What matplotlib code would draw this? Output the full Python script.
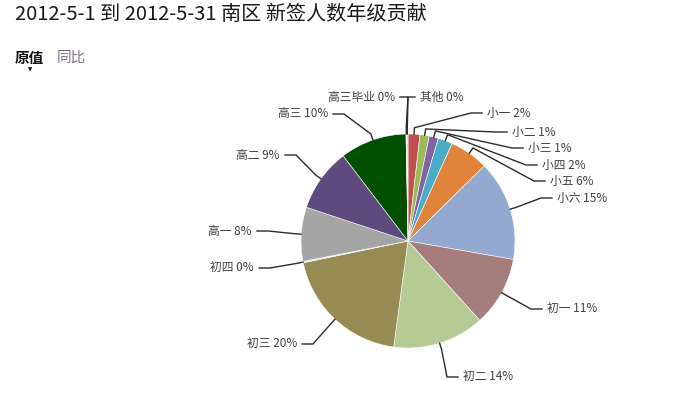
import matplotlib
matplotlib.use("Agg")
import matplotlib.pyplot as plt
import numpy as np

plt.rcParams['font.family'] = ['Noto Sans CJK SC', 'DejaVu Sans']

title = "2012-5-1 到 2012-5-31 南区 新签人数年级贡献"

# grades, clockwise from 12 o'clock
grades = ["小一", "小二", "小三", "小四", "小五", "小六", "初一", "初二",
          "初三", "初四", "高一", "高二", "高三", "高三毕业", "其他"]
# share of new sign-ups (%)
shares = [1.8, 1.4, 1.4, 2.2, 5.9, 15.2, 10.6, 13.9,
          19.7, 0.2, 8.2, 9.6, 10.1, 0.1, 0.2]
pct_labels = ["2%", "1%", "1%", "2%", "6%", "15%", "11%", "14%",
              "20%", "0%", "8%", "9%", "10%", "0%", "0%"]

colors = ["#C0504D", "#9BBB59", "#8064A2", "#4BACC6", "#E0843C", "#93A9CF",
          "#A47D7C", "#B6CB94", "#968B52", "#D9D9D9", "#A5A5A5", "#5E4A7C",
          "#005000", "#E8C8C8", "#F0D0D0"]

# label layout in pixels: text x, y, side (+1 text right of leader, -1 left), knee gap
lab_pos = [(487, 113, 1, 16), (512, 132, 1, 16), (528, 148, 1, 16),
           (542, 165, 1, 16), (550, 181, 1, 16), (557, 198, 1, 16),
           (547, 309, 1, 16), (463, 377, 1, 16), (297, 344, -1, 16),
           (254, 268, -1, 16), (252, 231, -1, 16), (280, 155, -1, 16),
           (328, 114, -1, 16), (395, 97, -1, 13), (420, 97, 1, 12)]

W, H = 681, 397
cx, cy, R = 408, 241, 107

fig = plt.figure(figsize=(W / 100, H / 100), dpi=100)
ax = fig.add_axes([0, 0, 1, 1])

ax.pie(shares, colors=colors, startangle=90, counterclock=False, radius=1,
       wedgeprops=dict(edgecolor="white", linewidth=0.4))
ax.set_xlim(-cx / R, (W - cx) / R)
ax.set_ylim(-(H - cy) / R, cy / R)
ax.set_aspect('auto')
ax.axis('off')

def px(x, y):
    return (x - cx) / R, (cy - y) / R

total = sum(shares)
start = 90.0
for i, name in enumerate(grades):
    sweep = shares[i] / total * 360
    mid = np.deg2rad(start - sweep / 2)
    start -= sweep
    tx, ty, sgn, gap = lab_pos[i]
    ex, ey = np.cos(mid), np.sin(mid)
    e2x, e2y = 1.06 * ex, 1.06 * ey
    kx, ky = px(tx - sgn * gap, ty)
    hx, hy = px(tx - sgn * 5, ty)
    ax.plot([ex, e2x, kx, hx], [ey, e2y, ky, hy], color="#2b2b2b", lw=1.0,
            solid_joinstyle="miter")
    lx, ly = px(tx, ty)
    ax.text(lx, ly, f"{name} {pct_labels[i]}", fontsize=8.5, color="#404040",
            ha="left" if sgn > 0 else "right", va="center")

fig.text(15 / W, 1 - 14 / H, title, fontsize=14.5, color="#1a1a1a",
         ha="left", va="center")
fig.text(15 / W, 1 - 58 / H, "原值", fontsize=10.5, fontweight="bold",
         color="#111111", ha="left", va="center")
fig.text(57 / W, 1 - 58 / H, "同比", fontsize=10.5, color="#7a6e8c",
         ha="left", va="center")
fig.text(30 / W, 1 - 70 / H, "▼", fontsize=4, color="#111111",
         ha="center", va="center", family="DejaVu Sans")

fig.savefig("out.png", dpi=100)
